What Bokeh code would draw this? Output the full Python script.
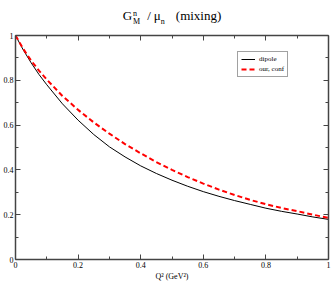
from bokeh.plotting import figure
from bokeh.models import (LinearAxis, FixedTicker, CustomJSTickFormatter, Legend,
                          LegendItem, Range1d, Div)
from bokeh.layouts import column
from bokeh.embed import file_html
from bokeh.resources import INLINE

q2 = [0.0, 0.025, 0.05, 0.075, 0.1, 0.15, 0.2, 0.25, 0.3, 0.35, 0.4, 0.45, 0.5,
      0.55, 0.6, 0.65, 0.7, 0.75, 0.8, 0.85, 0.9, 0.95, 1.0]
dipole = [1.0, 0.935, 0.878, 0.826, 0.78, 0.695, 0.622, 0.558, 0.503, 0.458, 0.418,
          0.384, 0.354, 0.327, 0.303, 0.282, 0.263, 0.246, 0.229, 0.215, 0.203, 0.19, 0.179]
our_conf = [1.0, 0.94, 0.888, 0.843, 0.803, 0.73, 0.668, 0.612, 0.562, 0.515, 0.474,
            0.435, 0.400, 0.368, 0.339, 0.312, 0.288, 0.266, 0.247, 0.23, 0.216, 0.2, 0.186]
major_ticks = [0.0, 0.2, 0.4, 0.6, 0.8, 1.0]
minor_ticks = [0.1, 0.3, 0.5, 0.7, 0.9]

FONT = "Liberation Serif"

p = figure(width=332, height=256, output_backend="svg", toolbar_location=None,
           x_axis_location=None, y_axis_location=None,
           x_range=Range1d(0, 1), y_range=Range1d(0, 1),
           min_border_left=12, min_border_right=4, min_border_top=8, min_border_bottom=24)
p.grid.visible = False
p.outline_line_color = None
p.background_fill_color = "white"
p.border_fill_color = "white"

fmt = CustomJSTickFormatter(code="return (Math.round(tick*10)/10).toString();")

def make_axis(show_labels):
    ax = LinearAxis(ticker=FixedTicker(ticks=major_ticks, minor_ticks=minor_ticks),
                    formatter=fmt)
    ax.axis_line_color = "#444444"
    ax.axis_line_width = 1.5
    ax.major_tick_line_color = "#444444"
    ax.minor_tick_line_color = "#444444"
    ax.major_tick_in = 5
    ax.major_tick_out = 0
    ax.minor_tick_in = 3
    ax.minor_tick_out = 0
    ax.major_label_text_font = FONT
    ax.major_label_text_color = "black"
    ax.major_label_text_font_size = "8px" if show_labels else "0px"
    ax.major_label_standoff = 2 if show_labels else 0
    if not show_labels:
        ax.major_label_text_alpha = 0
    return ax

xb = make_axis(True)
xb.axis_label = "Q² (GeV²)"
xb.axis_label_text_font = FONT
xb.axis_label_text_color = "black"
xb.axis_label_text_font_style = "normal"
xb.axis_label_text_font_size = "8px"
xb.axis_label_standoff = 1
p.add_layout(xb, "below")
yl = make_axis(True)
p.add_layout(yl, "left")
p.add_layout(make_axis(False), "above")
p.add_layout(make_axis(False), "right")

r1 = p.line(q2, dipole, line_color="black", line_width=1)
r2 = p.line(q2, our_conf, line_color="#ff0000", line_width=2, line_dash="5 3")

legend = Legend(items=[LegendItem(label="dipole", renderers=[r1]),
                       LegendItem(label="our, conf", renderers=[r2])],
                location=(222, 182))
legend.border_line_color = "#444444"
legend.border_line_width = 1
legend.label_text_font = FONT
legend.label_text_color = "black"
legend.label_text_font_size = "7px"
legend.label_height = 8
legend.glyph_height = 8
legend.glyph_width = 14
legend.spacing = 2
legend.padding = 3
legend.margin = 0
legend.label_standoff = 4
p.add_layout(legend, "center")

title_html = (
    '<div style="font-family:\'Liberation Serif\';font-size:13px;color:black;'
    'text-align:center;width:332px;line-height:13px;white-space:nowrap;'
    'padding-top:9px;padding-left:12px;box-sizing:border-box">'
    'G<span style="display:inline-block;vertical-align:-4px;font-size:8px;line-height:8px;'
    'text-align:left;margin-left:1px">n<br>M</span>'
    '<span style="margin-left:7px">/</span>'
    '<span style="margin-left:3px">μ</span><sub style="font-size:8px">n</sub>'
    '<span style="margin-left:11px">(mixing)</span></div>'
)
title = Div(text=title_html, width=332, height=27, margin=(0, 0, 0, 0))

layout = column(title, p, spacing=0)
open("out.html", "w").write(file_html(layout, INLINE))
